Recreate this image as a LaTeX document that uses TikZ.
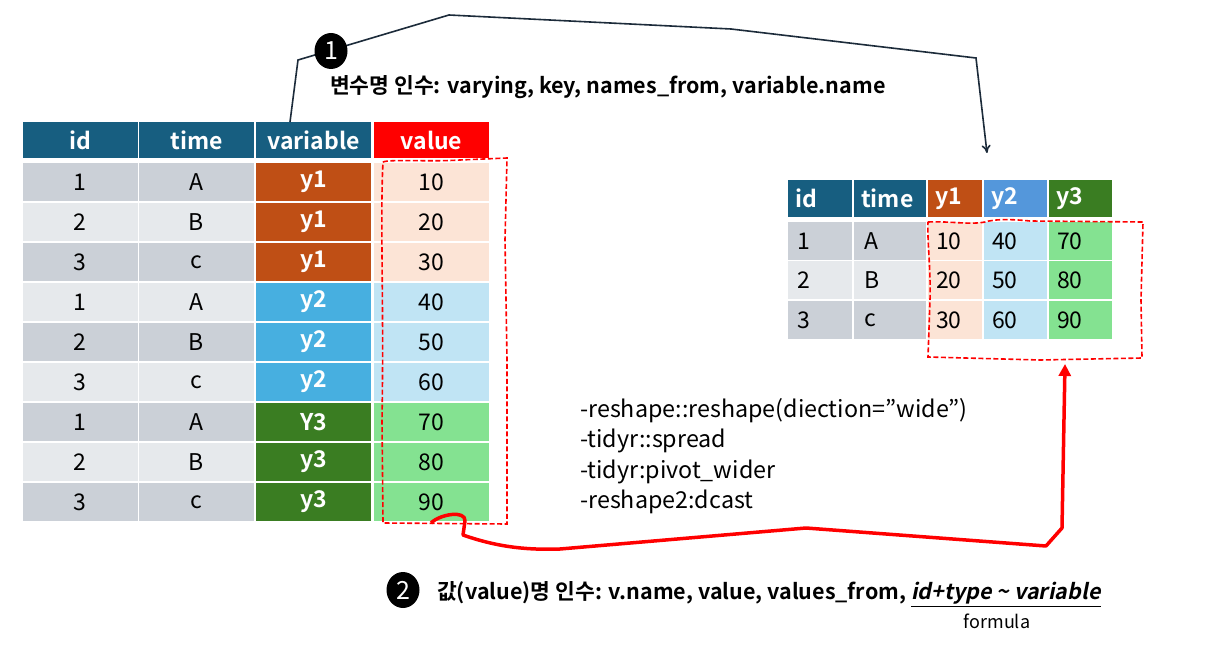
\documentclass[tikz,border=0pt]{standalone}
\usepackage{fontspec}
\setmainfont{Noto Sans CJK KR}[BoldFont={* Bold},ItalicFont={*},ItalicFeatures={FakeSlant=0.2},BoldItalicFont={* Bold},BoldItalicFeatures={FakeSlant=0.2}]
\usetikzlibrary{arrows.meta,shapes.geometric}
\definecolor{hdr}{HTML}{175E80}
\definecolor{gA}{HTML}{CBD0D7}
\definecolor{gB}{HTML}{E6E9EC}
\definecolor{vA}{HTML}{BF4F15}
\definecolor{vB}{HTML}{47AFE0}
\definecolor{vC}{HTML}{3A7D22}
\definecolor{pA}{HTML}{FCE4D6}
\definecolor{pB}{HTML}{C0E4F4}
\definecolor{pC}{HTML}{84E291}
\definecolor{rB}{HTML}{5497DB}
\definecolor{navy}{HTML}{1C2B3A}
\begin{document}
\begin{tikzpicture}[x=1pt,y=-1pt,
  cell/.style={inner sep=0pt,minimum width=115pt,minimum height=38pt,font=\fontsize{23}{27}\selectfont},
  hcell/.style={cell,minimum height=36pt,text=white,font=\bfseries\fontsize{23}{27}\selectfont},
  rcell/.style={inner sep=0pt,minimum height=38pt},
  rtxt/.style={anchor=west,inner sep=0pt,font=\fontsize{23}{27}\selectfont},
  rhtxt/.style={anchor=west,inner sep=0pt,text=white,font=\bfseries\fontsize{23}{27}\selectfont},
  badge/.style={ellipse,fill=black,text=white,minimum width=33pt,minimum height=36pt,inner sep=0pt,font=\fontsize{25}{28}\selectfont},
  lbl/.style={anchor=west,inner sep=0pt,font=\bfseries\fontsize{21.5}{25}\selectfont},
  dbox/.style={red,line width=1.6pt,dash pattern=on 5pt off 2.5pt},
]
\useasboundingbox (0,0) rectangle (1223,652);
\fill[white] (0,0) rectangle (1223,652);
% ---------- left table ----------
\node[hcell,fill=hdr] (h1) at (80,140) {id};
\node[hcell,fill=hdr] (h2) at (196.5,140) {time};
\node[hcell,fill=hdr] (h3) at (313.5,140) {variable};
\node[hcell,fill=red] (h4) at (431.5,140) {value};
\foreach \i/\id/\t/\v/\vc/\val/\pc [count=\k] in
 {1/1/A/y1/vA/10/pA, 2/2/B/y1/vA/20/pA, 3/3/c/y1/vA/30/pA,
  4/1/A/y2/vB/40/pB, 5/2/B/y2/vB/50/pB, 6/3/c/y2/vB/60/pB,
  7/1/A/Y3/vC/70/pC, 8/2/B/y3/vC/80/pC, 9/3/c/y3/vC/90/pC}{
  \pgfmathsetmacro{\yy}{182+40*(\i-1)}
  \pgfmathtruncatemacro{\odd}{mod(\i,2)}
  \ifnum\odd=1 \def\gc{gA}\else\def\gc{gB}\fi
  \node[cell,fill=\gc] (a\i) at (80,\yy) {\id};
  \node[cell,fill=\gc] (b\i) at (196.5,\yy) {\t};
  \node[cell,fill=\vc,text=white,font=\bfseries\fontsize{23}{27}\selectfont] (c\i) at (313.5,\yy) {\v};
  \node[cell,fill=\pc] (d\i) at (431.5,\yy) {\val};
}
% dashed box left
\draw[dbox] (383,162) .. controls (390,159) and (430,162) .. (460,160) -- (507,158)
  -- (505,240) -- (507,360) -- (507,524) -- (383,523) -- (382,420) .. controls (384,300) and (380,220) .. (383,162) -- cycle;
% ---------- right table ----------
\foreach \n/\x/\w/\c/\t in {r1/788/64/hdr/id, r2/854/72/hdr/time, r3/928/54/vA/y1, r4/984/63/rB/y2, r5/1049/63/vC/y3}{
  \node[rcell,fill=\c,minimum width=\w pt,minimum height=37pt,anchor=north west] (\n) at (\x,180) {};
  \node[rhtxt] (\n t) at (\x+7,198.5) {\t};
}
\foreach \j/\ya/\id/\t/\va/\vb/\vcc/\gc in {1/222/1/A/10/40/70/gA, 2/261/2/B/20/50/80/gB, 3/301/3/c/30/60/90/gA}{
  \node[rcell,fill=\gc,minimum width=64pt,anchor=north west] (s1\j) at (788,\ya) {};
  \node[rcell,fill=\gc,minimum width=72pt,anchor=north west] (s2\j) at (854,\ya) {};
  \node[rcell,fill=pA,minimum width=54pt,anchor=north west] (s3\j) at (928,\ya) {};
  \node[rcell,fill=pB,minimum width=63pt,anchor=north west] (s4\j) at (984,\ya) {};
  \node[rcell,fill=pC,minimum width=63pt,anchor=north west] (s5\j) at (1049,\ya) {};
  \node[rtxt] (t1\j) at (797,\ya+19) {\id};
  \node[rtxt] (t2\j) at (864,\ya+19) {\t};
  \node[rtxt] (t3\j) at (936,\ya+19) {\va};
  \node[rtxt] (t4\j) at (992,\ya+19) {\vb};
  \node[rtxt] (t5\j) at (1057,\ya+19) {\vcc};
}
% dashed box right
\draw[dbox] (928,222) .. controls (950,221) and (970,225) .. (985,222) .. controls (995,219) and (1010,219) .. (1030,221) -- (1143,222)
  -- (1141,300) -- (1142,358) -- (1040,360) -- (928,357) -- (930,300) .. controls (931,270) and (927,240) .. (928,222) -- cycle;
% ---------- arrow 1 ----------
\coordinate (p0) at (290,122);
\coordinate (p1) at (298,60);
\coordinate (p2) at (449,15);
\coordinate (p3) at (731,29);
\coordinate (p4) at (976,58);
\coordinate (p5) at (987,153);
\draw[navy,line width=1.6pt,-{To[length=8pt,width=9pt]}] (p0) -- (p1) -- (p2) -- (p3) -- (p4) -- (p5);
\node[badge] (n1) at (331,51) {1};
\node[lbl] (l1) at (330,87) {변수명 인수: varying, key, names\_from, variable.name};
% ---------- code text ----------
\node[anchor=north west,inner sep=0pt,align=left,font=\fontsize{23.3}{30.5}\selectfont] (code) at (580,398)
 {-reshape::reshape(diection=”wide”)\\-tidyr::spread\\-tidyr:pivot\_wider\\-reshape2:dcast};
% ---------- arrow 2 ----------
\coordinate (q0) at (431,523);
\coordinate (q1) at (465,521);
\coordinate (q2) at (463,535);
\coordinate (q3) at (560,549);
\coordinate (q4) at (806,528);
\coordinate (q5) at (1046,546);
\coordinate (q6) at (1062,528);
\coordinate (q7) at (1065,364);
\draw[red,line width=3.5pt,line join=round,-{Triangle[length=12pt,width=12pt]}]
  (q0) .. controls (440,514) and (466,510) .. (q1) -- (q2) .. controls (500,548) and (530,550) .. (q3) -- (q4) -- (q5) -- (q6) -- (q7);
\node[badge] (n2) at (403,590) {2};
\node[lbl] (l2) at (437,594) {값(value)명 인수: v.name, value, values\_from, \underline{\textit{id+type \textasciitilde{} variable}}};
\node[inner sep=0pt,font=\fontsize{18}{21}\selectfont] (f) at (997,621) {formula};
\end{tikzpicture}
\end{document}
